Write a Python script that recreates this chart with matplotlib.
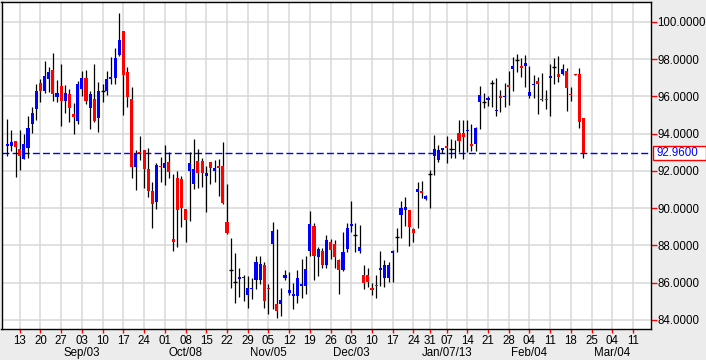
import matplotlib
matplotlib.use('Agg')
import matplotlib.pyplot as plt
import matplotlib.transforms as mtransforms
from matplotlib.patches import Rectangle
import numpy as np
import pandas as pd

plt.rcParams['font.family'] = ['Liberation Sans', 'DejaVu Sans']

# ── calendar: daily bars, weekends and two holidays skipped ──────────────────
first_day = '2012-08-08'
calendar_end = '2013-03-15'
holidays = ['2012-12-25', '2013-01-01']

# ── OHLC (140 bars, 2012-08-08 .. 2013-02-21) ────────────────────────────────
opens = [
    93.36, 93.36, 93.61, 93.18, 92.66, 93.25, 94.54, 95.34, 96.72, 96.31,
    96.93, 97.42, 95.97, 96.56, 95.75, 96.13, 95.07, 94.70, 96.42, 96.99,
    95.40, 95.85, 94.86, 96.28, 96.27, 96.97, 96.99, 98.22, 99.51, 97.33,
    95.86, 92.23, 93.00, 93.11, 92.09, 90.92, 90.35, 92.27, 92.18, 92.48,
    88.35, 91.60, 91.58, 89.96, 92.01, 91.30, 92.53, 92.55, 91.75, 92.48,
    92.01, 92.26, 92.26, 89.24, 86.67, 86.06, 86.22, 86.24, 85.34, 85.68,
    86.13, 86.13, 86.95, 85.72, 88.10, 84.86, 84.86, 86.27, 85.47, 85.29,
    85.31, 85.82, 85.84, 87.70, 89.04, 87.40, 87.70, 86.95, 88.17, 88.08,
    87.22, 86.68, 87.79, 89.06, 88.56, 87.72, 86.41, 86.41, 85.68, 85.86,
    86.68, 86.24, 86.24, 87.61, 88.44, 89.64, 89.92, 89.90, 88.88, 90.89,
    90.88, 90.49, 91.82, 92.82, 92.57, 93.16, 93.32, 93.16, 93.14, 94.05,
    94.05, 94.16, 93.45, 93.45, 95.72, 95.68, 95.81, 96.70, 95.23, 95.99,
    95.98, 96.58, 97.47, 97.98, 97.63, 97.63, 96.04, 96.63, 96.83, 95.84,
    95.84, 96.97, 97.56, 97.20, 97.22, 97.36, 96.13, 97.20, 97.18, 94.82,
]
highs = [
    94.79, 94.20, 93.61, 94.20, 93.98, 94.97, 95.45, 96.68, 96.93, 97.92,
    97.60, 98.33, 96.88, 97.74, 96.63, 96.38, 95.65, 96.83, 97.36, 97.42,
    96.29, 97.72, 96.75, 96.66, 97.36, 98.13, 98.62, 100.46, 99.51, 97.60,
    96.52, 93.12, 93.87, 93.11, 93.25, 91.41, 92.41, 92.75, 93.39, 93.03,
    91.84, 92.00, 91.73, 89.96, 93.03, 93.71, 93.18, 92.71, 92.25, 92.50,
    92.59, 92.66, 93.57, 91.30, 88.40, 87.58, 86.81, 86.41, 86.38, 86.27,
    87.45, 87.45, 87.13, 85.93, 89.28, 88.88, 85.70, 86.68, 86.59, 86.00,
    86.68, 87.27, 87.45, 89.85, 89.19, 87.94, 87.85, 88.56, 88.33, 88.29,
    87.27, 88.74, 89.22, 90.39, 89.19, 89.10, 86.95, 86.77, 85.97, 86.41,
    87.70, 87.22, 87.13, 87.76, 88.92, 90.39, 90.58, 89.90, 88.92, 91.42,
    91.46, 90.71, 92.05, 93.93, 93.39, 93.25, 93.87, 93.70, 93.66, 94.73,
    94.73, 94.73, 94.52, 94.38, 96.56, 96.16, 96.04, 96.88, 96.99, 96.36,
    96.70, 97.36, 98.13, 98.28, 98.04, 98.22, 97.63, 97.15, 97.06, 97.24,
    96.34, 97.72, 98.04, 98.17, 97.72, 97.50, 96.52, 97.22, 97.54, 94.82,
]
lows = [
    92.82, 93.09, 91.69, 92.07, 92.62, 92.71, 94.02, 94.73, 95.68, 96.16,
    96.22, 95.75, 95.72, 94.43, 95.09, 94.63, 93.96, 94.54, 96.04, 95.60,
    94.27, 94.64, 94.11, 95.72, 96.08, 96.66, 96.66, 98.17, 95.00, 95.45,
    91.60, 90.98, 92.59, 91.10, 90.62, 88.96, 89.94, 91.42, 91.25, 91.60,
    87.72, 87.94, 89.01, 88.20, 89.31, 91.05, 91.10, 91.14, 89.81, 91.32,
    91.39, 90.65, 90.23, 88.60, 85.74, 84.93, 85.23, 85.04, 84.63, 85.13,
    85.66, 85.95, 84.66, 84.34, 84.57, 84.09, 84.23, 86.15, 85.34, 84.59,
    84.93, 85.16, 85.41, 87.45, 86.15, 86.38, 86.81, 86.81, 87.27, 86.77,
    85.38, 86.65, 87.67, 88.74, 87.63, 87.58, 85.66, 85.79, 85.34, 85.20,
    85.84, 85.79, 86.06, 86.06, 87.67, 88.38, 89.06, 87.99, 88.20, 88.92,
    90.53, 90.44, 90.03, 91.78, 92.46, 92.96, 92.44, 92.68, 92.68, 93.03,
    92.64, 93.03, 93.09, 93.09, 94.25, 95.40, 95.50, 95.45, 94.97, 95.14,
    95.45, 95.54, 96.29, 97.33, 97.06, 96.52, 95.93, 95.93, 95.07, 95.75,
    95.31, 94.97, 96.67, 96.75, 97.15, 95.22, 95.77, 97.15, 94.29, 92.68,
]
closes = [
    93.46, 93.55, 93.28, 92.82, 93.45, 94.30, 95.13, 96.29, 96.29, 97.10,
    97.33, 96.13, 96.18, 95.75, 96.18, 95.38, 94.89, 96.67, 96.99, 95.75,
    96.13, 94.70, 96.29, 96.28, 96.93, 97.00, 98.08, 99.02, 97.15, 95.99,
    92.23, 92.94, 92.95, 92.09, 90.94, 90.21, 92.30, 92.24, 92.43, 91.96,
    88.20, 89.92, 90.03, 89.37, 92.43, 92.10, 91.91, 91.91, 91.89, 92.16,
    92.16, 92.18, 90.26, 88.65, 86.67, 86.06, 86.30, 86.30, 85.74, 85.72,
    87.09, 87.02, 85.04, 85.68, 88.78, 84.50, 85.07, 86.41, 85.61, 85.40,
    86.24, 85.93, 86.74, 89.15, 87.43, 87.81, 86.95, 88.29, 87.76, 87.36,
    86.68, 87.63, 88.96, 89.17, 88.56, 87.90, 86.00, 86.02, 85.65, 85.84,
    86.77, 86.95, 86.95, 87.72, 88.44, 89.99, 90.06, 89.01, 88.67, 91.03,
    90.85, 90.65, 91.82, 93.18, 93.11, 93.18, 93.25, 93.16, 93.18, 93.62,
    93.84, 94.20, 93.36, 94.29, 96.08, 95.68, 95.90, 96.70, 95.27, 95.96,
    96.02, 96.55, 97.63, 97.98, 97.54, 97.79, 96.22, 96.67, 96.68, 95.81,
    95.81, 97.11, 97.56, 97.06, 97.47, 96.47, 96.10, 97.17, 94.64, 92.96,
]
last_price = 92.96

y_ticks = [84, 86, 88, 90, 92, 94, 96, 98, 100]
month_labels = ['Sep/03', 'Oct/08', 'Nov/05', 'Dec/03', 'Jan/07/13', 'Feb/04', 'Mar/04']
month_dates = ['2012-09-03', '2012-10-08', '2012-11-05', '2012-12-03',
               '2013-01-07', '2013-02-04', '2013-03-04']

# ── positions on a trading-day axis ──────────────────────────────────────────
cal = pd.bdate_range(first_day, calendar_end)
cal = cal[~cal.isin(pd.to_datetime(holidays))]
pos = {d: i for i, d in enumerate(cal)}

o = np.array(opens)
h = np.array(highs)
l = np.array(lows)
c = np.array(closes)
x = np.arange(len(c))

fig = plt.figure(figsize=(7.06, 3.6), dpi=100, facecolor='#ececec')
ax = fig.add_axes([1.5 / 706, 31.5 / 360, 649 / 706, 326.5 / 360])
ax.set_facecolor('white')

# wicks
ax.vlines(x, l, h, color='black', lw=0.9, zorder=3)

# bodies
body_w = 0.75
min_h = 0.07
up = c > o
dn = c < o
flat = c == o
span = np.abs(c - o)
hgt = np.maximum(span, min_h)
bottom = np.minimum(o, c) - (hgt - span) / 2
ax.bar(x[up], hgt[up], bottom=bottom[up], width=body_w, color='#0000ff', lw=0, zorder=4)
ax.bar(x[dn], hgt[dn], bottom=bottom[dn], width=body_w, color='#ff0000', lw=0, zorder=4)
ax.hlines(c[flat], x[flat] - 0.5, x[flat] + 0.5, color='black', lw=1.0, zorder=4)

# last price line + box
ax.axhline(last_price, color='#0000ff', lw=1.0, ls=(0, (5, 2.3)), zorder=2.5)
ytr = ax.get_yaxis_transform()
ax.add_patch(Rectangle((1.0031, last_price - 0.36), 0.0817, 0.72, transform=ytr,
                       clip_on=False, facecolor='white', edgecolor='red', lw=1.0))
ax.text(1.0085, last_price, f'{last_price:.4f}', transform=ytr, color='#0000ff',
        fontsize=8.3, ha='left', va='center')

# axes limits
ax.set_xlim(-1.4, 155.2)
ax.set_ylim(83.54, 101.07)

# x ticks: every Monday
mondays = [d for d in cal if d.weekday() == 0 and d >= pd.Timestamp('2012-08-13')]
ax.set_xticks([pos[d] for d in mondays])
ax.set_xticklabels([d.strftime('%d') for d in mondays])
ax.tick_params(axis='x', color='red', labelcolor='black', length=3, width=1,
               direction='out', pad=2, labelsize=8.3)

# y ticks on the right
ax.yaxis.tick_right()
ax.set_yticks(y_ticks)
ax.set_yticklabels([f'{v:.4f}' for v in y_ticks])
ax.tick_params(axis='y', color='red', labelcolor='black', length=4, width=1,
               direction='out', pad=1, labelsize=8.3)

ax.grid(True, color='#d9d9d9', lw=1.1)
ax.set_axisbelow(True)
for s in ax.spines.values():
    s.set_color('black')
    s.set_linewidth(1.0)

# month labels under the first Monday of each month
trans = mtransforms.blended_transform_factory(ax.transData, fig.transFigure)
for lab, d in zip(month_labels, month_dates):
    ax.text(pos[pd.Timestamp(d)], 7 / 360, lab, transform=trans,
            ha='center', va='center', fontsize=8.3)

fig.savefig('out.png', dpi=100, facecolor=fig.get_facecolor())
